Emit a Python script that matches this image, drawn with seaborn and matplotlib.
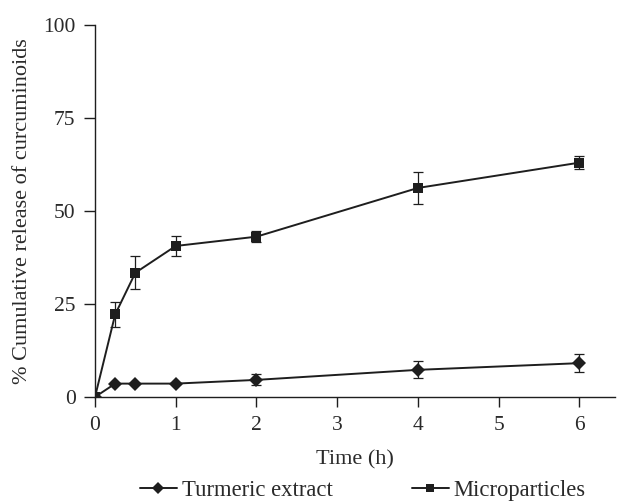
import numpy as np
import pandas as pd
import matplotlib
matplotlib.use("Agg")
import matplotlib.pyplot as plt
import seaborn as sns
from matplotlib.lines import Line2D

time_h = [0, 0.25, 0.5, 1, 2, 4, 6]
turmeric = [0, 3.6, 3.6, 3.6, 4.6, 7.3, 9.1]
turmeric_err = [0, 0, 0, 0, 1.5, 2.3, 2.4]
micro = [0, 22.2, 33.4, 40.6, 43.1, 56.2, 63.0]
micro_err = [0, 3.3, 4.5, 2.8, 1.4, 4.2, 1.8]
series_names = ["Turmeric extract", "Microparticles"]

sns.set_theme(style="white")
plt.rcParams["font.family"] = ["Liberation Serif", "DejaVu Serif"]

df = pd.DataFrame({
    "time": time_h * 2,
    "value": turmeric + micro,
    "series": [series_names[0]] * len(time_h) + [series_names[1]] * len(time_h),
})

fig = plt.figure(figsize=(6.18, 5.04), dpi=100)
ax = fig.add_axes([95 / 618, 107 / 504, 520 / 618, 372 / 504])

col = "#1e1e1e"
tcol = "#2a2a2a"
sns.lineplot(data=df, x="time", y="value", style="series",
             markers={series_names[0]: "D", series_names[1]: "s"},
             dashes=False, color=col, markersize=7, linewidth=1.4,
             markeredgewidth=0, legend=False, ax=ax)
ax.errorbar(time_h, turmeric, yerr=turmeric_err, fmt="none", ecolor=col,
            elinewidth=0.9, capsize=3.5, capthick=0.9)
ax.errorbar(time_h, micro, yerr=micro_err, fmt="none", ecolor=col,
            elinewidth=0.9, capsize=3.5, capthick=0.9)

ax.set_xlim(0, 6.44)
ax.set_ylim(0, 100)
ax.set_xticks(range(0, 7))
ax.set_yticks([0, 25, 50, 75, 100])
for s in ["top", "right"]:
    ax.spines[s].set_visible(False)
for s in ["left", "bottom"]:
    ax.spines[s].set_color(col)
    ax.spines[s].set_linewidth(1.0)
ax.spines["left"].set_bounds(0, 100)
ax.tick_params(axis="y", direction="out", length=8, width=1, color=col,
               labelsize=15.5, labelcolor=tcol, pad=6, left=True)
ax.tick_params(axis="x", direction="out", length=7, width=1, color=col,
               labelsize=15.5, labelcolor=tcol, pad=7, bottom=True)
ax.set_xlabel("Time (h)", fontsize=16, color=tcol, labelpad=11)
ax.set_ylabel("% Cumulative release of curcuminoids", fontsize=16,
              color=tcol, labelpad=8)

handles = [
    Line2D([], [], color=col, marker="D", markersize=6, linewidth=1.4, markeredgewidth=0),
    Line2D([], [], color=col, marker="s", markersize=6, linewidth=1.4, markeredgewidth=0),
]
fig.legend(handles, series_names, loc="center", bbox_to_anchor=(0.587, 0.027),
           ncol=2, frameon=False, fontsize=16.3, handlelength=1.63,
           handletextpad=0.22, columnspacing=3.5, labelcolor=tcol)

fig.savefig("out.png", dpi=100)
